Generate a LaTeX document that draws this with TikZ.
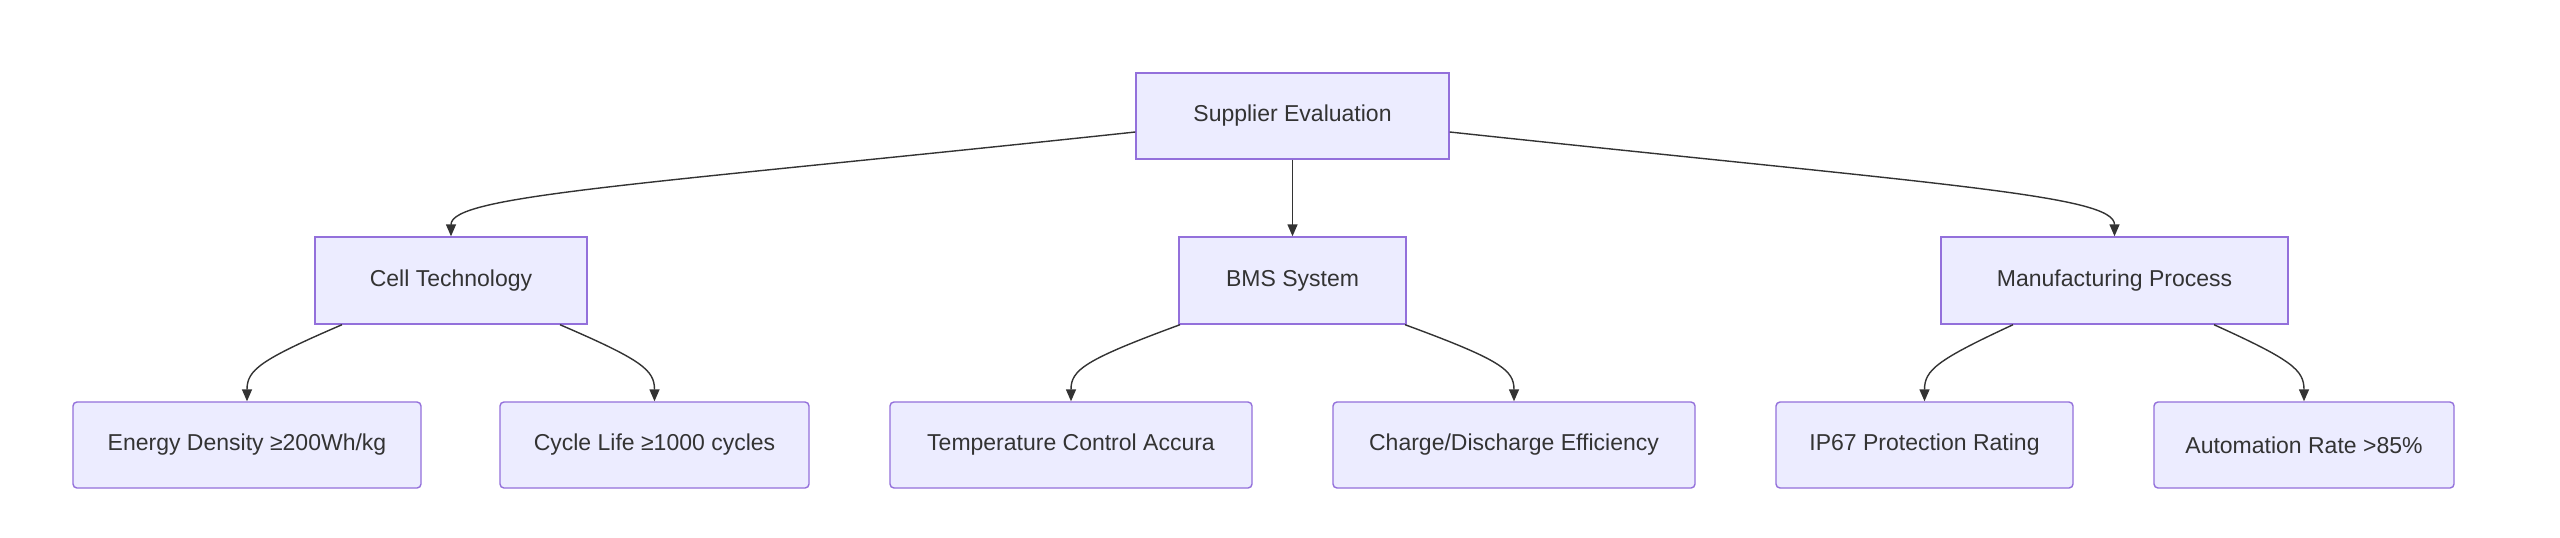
\documentclass[tikz,border=0pt]{standalone}
\usepackage{fontspec}
\setmainfont{Liberation Sans}
\usetikzlibrary{arrows.meta}
\definecolor{nfill}{HTML}{ECECFF}
\definecolor{ndraw}{HTML}{9370DB}
\definecolor{ink}{HTML}{333333}
\begin{document}
\begin{tikzpicture}[x=0.5pt,y=-0.5pt,
  box/.style={draw=ndraw,fill=nfill,line width=0.7pt,inner sep=0pt,text=ink,font=\fontsize{11.5}{13}\selectfont},
  leaf/.style={box,rounded corners=2pt},
  edge/.style={draw=ink,line width=0.7pt,-{Triangle[length=6pt,width=5pt]}}]
\useasboundingbox[fill=white] (0,0) rectangle (2560,537);
\node[box,minimum width=156.5pt,minimum height=43pt] (root) at (1292.5,116) {Supplier Evaluation};
\node[box,minimum width=136pt,minimum height=43.5pt] (cell) at (451,280.5) {Cell Technology};
\node[box,minimum width=113.5pt,minimum height=43.5pt] (bms) at (1292.5,280.5) {BMS System};
\node[box,minimum width=173.5pt,minimum height=43.5pt] (man) at (2114.5,280.5) {Manufacturing Process};
\node[leaf,minimum width=174pt,minimum height=43pt] (ed) at (247,445) {Energy Density ≥200Wh/kg};
\node[leaf,minimum width=154.5pt,minimum height=43pt] (cl) at (654.5,445) {Cycle Life ≥1000 cycles};
\node[leaf,minimum width=181pt,minimum height=43pt] (tc) at (1071,445) {Temperature Control Accura};
\node[leaf,minimum width=181pt,minimum height=43pt] (ce) at (1514,445) {Charge/Discharge Efficiency};
\node[leaf,minimum width=148.5pt,minimum height=43pt] (ip) at (1924.5,445) {IP67 Protection Rating};
\node[leaf,minimum width=150pt,minimum height=43pt] (au) at (2304,445) {Automation Rate >85\%};
\path[edge] (root.south) -- (bms.north);
\path[edge] (root.west|-0,132) .. controls (640,185) and (451,195) .. (cell.north);
\path[edge] (root.east|-0,132) .. controls (1945,185) and (2114.5,195) .. (man.north);
\path[edge] (cell.south-|342,0) .. controls (260,360) and (247,370) .. (ed.north);
\path[edge] (cell.south-|560,0) .. controls (642,360) and (654.5,370) .. (cl.north);
\path[edge] (bms.south-|1180,0) .. controls (1084,360) and (1071,370) .. (tc.north);
\path[edge] (bms.south-|1405,0) .. controls (1501,360) and (1514,370) .. (ce.north);
\path[edge] (man.south-|2013,0) .. controls (1937,360) and (1924.5,370) .. (ip.north);
\path[edge] (man.south-|2214,0) .. controls (2292,360) and (2304,370) .. (au.north);
\end{tikzpicture}
\end{document}
